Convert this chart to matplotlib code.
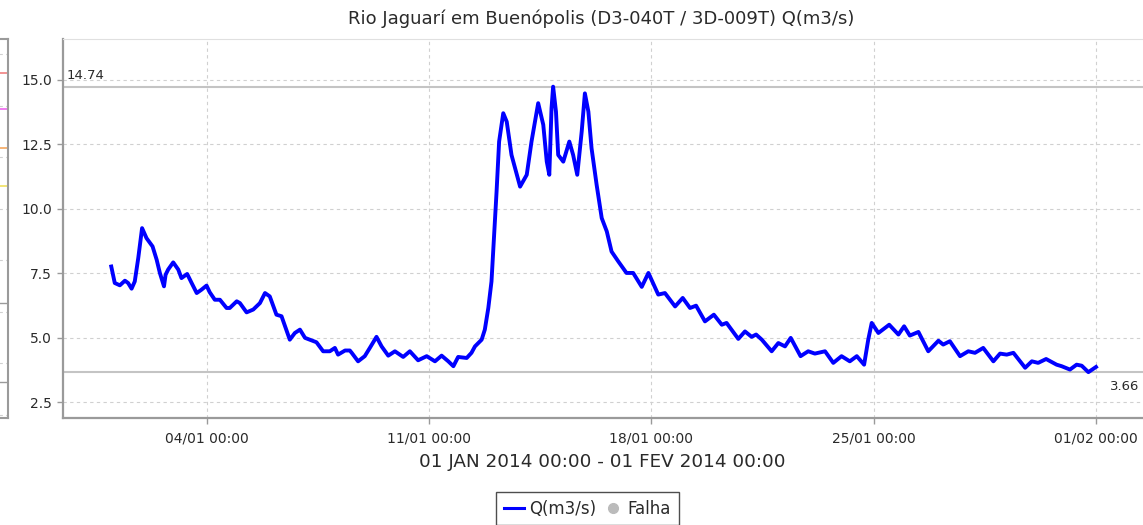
import matplotlib
matplotlib.use("Agg")
import matplotlib.pyplot as plt
from matplotlib.lines import Line2D

# --- Data: days since 01 JAN 2014 00:00, discharge Q (m3/s) ---
days = [
    0.00, 0.11, 0.27, 0.43, 0.53, 0.64, 0.74, 0.85, 0.97, 1.11,
    1.30, 1.43, 1.53, 1.66, 1.71, 1.79, 1.95, 2.11, 2.21, 2.39,
    2.53, 2.69, 2.84, 3.00, 3.10, 3.26, 3.42, 3.63, 3.73, 3.95,
    4.05, 4.26, 4.47, 4.68, 4.84, 4.99, 5.20, 5.36, 5.47, 5.62,
    5.78, 5.94, 6.10, 6.25, 6.46, 6.67, 6.88, 7.04, 7.14, 7.36,
    7.51, 7.57, 7.77, 7.98, 8.14, 8.35, 8.51, 8.72, 8.93, 9.19,
    9.40, 9.66, 9.93, 10.19, 10.40, 10.61, 10.77, 10.92, 11.19, 11.34,
    11.45, 11.66, 11.76, 11.87, 11.97, 12.04, 12.13, 12.21, 12.34, 12.45,
    12.60, 12.87, 13.08, 13.23, 13.44, 13.60, 13.71, 13.79, 13.86, 13.91,
    14.00, 14.07, 14.23, 14.42, 14.54, 14.67, 14.81, 14.91, 15.02, 15.12,
    15.28, 15.44, 15.60, 15.75, 15.96, 16.22, 16.43, 16.70, 16.91, 17.22,
    17.43, 17.75, 17.99, 18.22, 18.41, 18.69, 18.97, 19.22, 19.37, 19.74,
    19.95, 20.16, 20.30, 20.48, 20.79, 21.00, 21.21, 21.39, 21.70, 21.94,
    22.15, 22.47, 22.73, 22.99, 23.25, 23.47, 23.70, 23.83, 23.94, 24.15,
    24.49, 24.78, 24.96, 25.14, 25.41, 25.72, 26.04, 26.19, 26.40, 26.72,
    26.98, 27.19, 27.45, 27.77, 27.98, 28.19, 28.40, 28.77, 28.98, 29.18,
    29.43, 29.76, 29.92, 30.18, 30.39, 30.55, 30.76, 31.00,
]
flow = [
    7.76, 7.12, 7.03, 7.21, 7.12, 6.90, 7.18, 8.09, 9.25, 8.86,
    8.54, 8.02, 7.51, 6.99, 7.44, 7.64, 7.92, 7.64, 7.31, 7.47,
    7.12, 6.73, 6.86, 7.02, 6.76, 6.47, 6.47, 6.15, 6.15, 6.41,
    6.34, 5.98, 6.09, 6.34, 6.73, 6.60, 5.89, 5.83, 5.44, 4.92,
    5.18, 5.31, 4.99, 4.92, 4.82, 4.47, 4.47, 4.60, 4.34, 4.50,
    4.50, 4.41, 4.08, 4.28, 4.60, 5.03, 4.66, 4.30, 4.47, 4.25,
    4.47, 4.12, 4.28, 4.08, 4.30, 4.08, 3.89, 4.25, 4.21, 4.41,
    4.66, 4.92, 5.31, 6.15, 7.18, 8.73, 10.67, 12.61, 13.71, 13.38,
    12.09, 10.86, 11.32, 12.61, 14.10, 13.26, 11.83, 11.32, 13.90, 14.74,
    13.77, 12.09, 11.83, 12.61, 12.09, 11.32, 13.00, 14.48, 13.77, 12.35,
    10.93, 9.64, 9.12, 8.34, 7.96, 7.51, 7.51, 6.97, 7.51, 6.67,
    6.73, 6.21, 6.54, 6.15, 6.24, 5.63, 5.89, 5.50, 5.57, 4.95,
    5.24, 5.03, 5.12, 4.92, 4.47, 4.79, 4.66, 4.99, 4.28, 4.47,
    4.38, 4.47, 4.02, 4.28, 4.08, 4.28, 3.95, 4.92, 5.57, 5.18,
    5.50, 5.12, 5.44, 5.08, 5.22, 4.47, 4.88, 4.73, 4.86, 4.28,
    4.47, 4.41, 4.60, 4.08, 4.38, 4.34, 4.41, 3.83, 4.08, 4.02,
    4.17, 3.95, 3.89, 3.76, 3.95, 3.91, 3.66, 3.86,
]
tick_days = [3, 10, 17, 24, 31]
tick_labels = ["04/01 00:00", "11/01 00:00", "18/01 00:00", "25/01 00:00", "01/02 00:00"]
y_ticks = [2.5, 5.0, 7.5, 10.0, 12.5, 15.0]
q_max = 14.74
q_min = 3.66

# cropped neighbour chart on the far left
left_levels = [15.27, 13.88, 12.36, 10.89]
left_colors = ["#f08080", "#ee66ee", "#f5a860", "#f0e060"]
left_grey = [6.36, 3.26]

title = "Rio Jaguarí em Buenópolis (D3-040T / 3D-009T) Q(m3/s)"
period = "01 JAN 2014 00:00 - 01 FEV 2014 00:00"

plt.rcParams["font.family"] = ["DejaVu Sans"]
txt = "#2a2a2a"
spine_c = "#9a9a9a"
grid_c = "#d0d0d0"

fig = plt.figure(figsize=(11.43, 5.25), dpi=100)

# --- neighbour chart stub ---
axl = fig.add_axes([-0.09, 0.2038, 0.097, 0.7219])
axl.set_ylim(1.88, 16.59)
axl.set_xlim(0, 1)
for lv, c in zip(left_levels, left_colors):
    axl.axhline(lv, xmin=0.85, xmax=1, color=c, lw=1.2)
for lv in left_grey:
    axl.axhline(lv, color=spine_c, lw=1.0)
axl.grid(axis="y", ls=(0, (3, 3)), color=grid_c, lw=0.8)
axl.set_xticks([])
axl.tick_params(axis="y", length=0, labelleft=False)
for s in axl.spines.values():
    s.set_color(spine_c)
    s.set_linewidth(1.5)

# --- main chart ---
ax = fig.add_axes([0.0551, 0.2038, 0.9449, 0.7219])
ax.plot(days, flow, color="#0000ff", lw=2.8, solid_joinstyle="round")
ax.axhline(q_max, color="#c4c4c4", lw=1.5, zorder=1)
ax.axhline(q_min, color="#c4c4c4", lw=1.5, zorder=1)
ax.text(-1.4, q_max + 0.18, f"{q_max:.2f}", fontsize=9.5, color=txt, va="bottom", ha="left")
ax.text(32.35, q_min - 0.3, f"{q_min:.2f}", fontsize=9.5, color=txt, va="top", ha="right")

ax.set_xlim(-1.52, 32.48)
ax.set_ylim(1.88, 16.59)
ax.set_xticks(tick_days)
ax.set_xticklabels(tick_labels)
ax.set_yticks(y_ticks)
ax.set_yticklabels([f"{v:.1f}" for v in y_ticks])
ax.tick_params(axis="both", labelsize=10, colors=spine_c, labelcolor=txt, length=4, width=1)
ax.tick_params(axis="x", pad=6)
ax.tick_params(axis="y", pad=4)
ax.grid(True, ls=(0, (3, 3)), color=grid_c, lw=0.8)
ax.set_axisbelow(True)
for side in ["left", "bottom"]:
    ax.spines[side].set_color(spine_c)
    ax.spines[side].set_linewidth(1.6)
ax.spines["top"].set_color("#e0e0e0")
ax.spines["right"].set_visible(False)

fig.text(0.526, 0.965, title, ha="center", va="center", fontsize=13, color=txt)
fig.text(0.527, 0.12, period, ha="center", va="center", fontsize=13.2, color=txt)

handles = [
    Line2D([], [], color="#0000ff", lw=2.2),
    Line2D([], [], marker="o", ls="none", color="#bbbbbb", markersize=7),
]
leg = fig.legend(handles, ["Q(m3/s)", "Falha"], loc="upper center",
                 bbox_to_anchor=(0.514, 0.062), ncol=2, frameon=True, fancybox=False,
                 fontsize=12, handlelength=1.2, handletextpad=0.3, columnspacing=0.4,
                 borderpad=0.45, borderaxespad=0)
leg.get_frame().set_edgecolor("#222222")
leg.get_frame().set_linewidth(1.0)
for t in leg.get_texts():
    t.set_color(txt)

fig.savefig("out.png", dpi=100)
